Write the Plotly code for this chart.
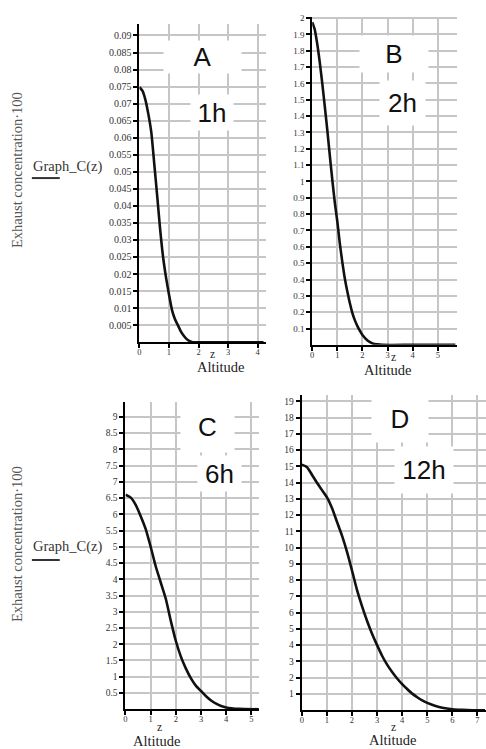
import plotly.graph_objects as go

W, H = 486, 749

# ---------------- data ----------------
# Panel A : 1 h
A_z = [0, 0.1, 0.2, 0.3, 0.4, 0.5, 0.6, 0.7, 0.8, 0.9, 1.0, 1.1, 1.2, 1.3,
       1.4, 1.5, 1.6, 1.7, 1.8, 2.0, 3.0, 4.2]
A_c = [0.0748, 0.0738, 0.0712, 0.0670, 0.0617, 0.0525, 0.0430, 0.0332,
       0.0250, 0.0190, 0.0140, 0.0095, 0.0068, 0.0050, 0.0032, 0.0019,
       0.0009, 0.0003, 0.0, 0.0, 0.0, 0.0]

# Panel B : 2 h
B_z = [0, 0.1, 0.2, 0.3, 0.4, 0.5, 0.6, 0.7, 0.8, 0.9, 1.0, 1.1, 1.2, 1.3,
       1.4, 1.5, 1.6, 1.7, 1.8, 1.9, 2.0, 2.2, 2.4, 2.6, 2.8, 4.0, 5.7]
B_c = [1.975, 1.93, 1.842, 1.73, 1.60, 1.46, 1.315, 1.16, 1.01, 0.87, 0.755,
       0.62, 0.505, 0.405, 0.325, 0.255, 0.195, 0.15, 0.115, 0.085, 0.06,
       0.027, 0.009, 0.003, 0.0, 0.0, 0.0]

# Panel C : 6 h
C_z = [0, 0.2, 0.4, 0.6, 0.8, 1.0, 1.2, 1.4, 1.6, 1.8, 2.0, 2.2, 2.4, 2.6,
       2.8, 3.0, 3.2, 3.4, 3.6, 3.8, 4.0, 4.2, 4.5, 5.3]
C_c = [6.6, 6.52, 6.3, 5.95, 5.55, 5.0, 4.4, 3.9, 3.4, 2.72, 2.1, 1.62, 1.25,
       0.95, 0.72, 0.56, 0.40, 0.27, 0.17, 0.10, 0.055, 0.03, 0.01, 0.0]

# Panel D : 12 h
D_z = [0, 0.2, 0.4, 0.6, 0.8, 1.0, 1.2, 1.4, 1.6, 1.8, 2.0, 2.2, 2.4, 2.6,
       2.8, 3.0, 3.2, 3.4, 3.6, 3.8, 4.0, 4.2, 4.4, 4.6, 4.8, 5.0, 5.3, 5.6,
       6.0, 6.4, 6.8, 7.3]
D_c = [15.1, 14.95, 14.5, 14.0, 13.55, 13.1, 12.45, 11.6, 10.75, 9.75, 8.6,
       7.4, 6.4, 5.5, 4.7, 4.0, 3.35, 2.8, 2.35, 1.95, 1.6, 1.3, 1.02, 0.8,
       0.6, 0.45, 0.28, 0.15, 0.06, 0.02, 0.0, 0.0]

# tick values / labels
A_xticks = [0, 1, 2, 3, 4]
A_yticks = [0.005, 0.01, 0.015, 0.02, 0.025, 0.03, 0.035, 0.04, 0.045, 0.05,
            0.055, 0.06, 0.065, 0.07, 0.075, 0.08, 0.085, 0.09]
A_ylabels = ["0.005", "0.01", "0.015", "0.02", "0.025", "0.03", "0.035",
             "0.04", "0.045", "0.05", "0.055", "0.06", "0.065", "0.07",
             "0.075", "0.08", "0.085", "0.09"]
B_xticks = [0, 1, 2, 3, 4, 5]
B_yticks = [0.1, 0.2, 0.3, 0.4, 0.5, 0.6, 0.7, 0.8, 0.9, 1.0, 1.1, 1.2, 1.3,
            1.4, 1.5, 1.6, 1.7, 1.8, 1.9, 2.0]
B_ylabels = ["0.1", "0.2", "0.3", "0.4", "0.5", "0.6", "0.7", "0.8", "0.9",
             "1", "1.1", "1.2", "1.3", "1.4", "1.5", "1.6", "1.7", "1.8",
             "1.9", "2"]
C_xticks = [0, 1, 2, 3, 4, 5]
C_yticks = [0.5, 1, 1.5, 2, 2.5, 3, 3.5, 4, 4.5, 5, 5.5, 6, 6.5, 7, 7.5, 8,
            8.5, 9, 9.5]
C_ylabels = ["0.5", "1", "1.5", "2", "2.5", "3", "3.5", "4", "4.5", "5",
             "5.5", "6", "6.5", "7", "7.5", "8", "8.5", "9", "9.5"]
D_xticks = [0, 1, 2, 3, 4, 5, 6, 7]
D_yticks = [1, 2, 3, 4, 5, 6, 7, 8, 9, 10, 11, 12, 13, 14, 15, 16, 17, 18, 19]
D_ylabels = [str(v) for v in D_yticks]

panel_letters = ["A", "B", "C", "D"]
panel_times = ["1h", "2h", "6h", "12h"]
y_title = "Exhaust concentration·100"
legend_name = "Graph_C(z)"
x_title = "z"
x_subtitle = "Altitude"

# ---------------- layout helpers ----------------
def px(x):
    return x / W


def py(y):
    return 1 - y / H


SERIF = "Liberation Serif, Times New Roman, serif"
SANS = "Liberation Sans, Arial, sans-serif"
GRID = "#c6c6c6"

# plot areas in pixels: (left, right, top, bottom), ranges
panels = [
    dict(z=A_z, c=A_c, box=(138, 265, 20, 340), xr=[0, 4.28], yr=[0, 0.0934],
         xt=A_xticks, yt=A_yticks, yl=A_ylabels, fs=10),
    dict(z=B_z, c=B_c, box=(311.5, 457, 13, 342.7), xr=[0, 5.77], yr=[0, 2.007],
         xt=B_xticks, yt=B_yticks, yl=B_ylabels, fs=9),
    dict(z=C_z, c=C_c, box=(124, 258, 400, 709), xr=[0, 5.3], yr=[0, 9.46],
         xt=C_xticks, yt=C_yticks, yl=C_ylabels, fs=9.5),
    dict(z=D_z, c=D_c, box=(301, 486, 393, 710), xr=[0, 7.34], yr=[0, 19.39],
         xt=D_xticks, yt=D_yticks, yl=D_ylabels, fs=9.5),
]

fig = go.Figure()
layout = dict(
    width=W, height=H, autosize=False,
    margin=dict(l=0, r=0, t=0, b=0),
    paper_bgcolor="white", plot_bgcolor="white",
    showlegend=False,
)

for i, p in enumerate(panels):
    n = "" if i == 0 else str(i + 1)
    l, r, t, b = p["box"]
    fig.add_trace(go.Scatter(
        x=p["z"], y=p["c"], mode="lines", name=legend_name,
        line=dict(color="#111111", width=2.6, shape="spline", smoothing=0.6),
        xaxis="x" + n, yaxis="y" + n, hoverinfo="skip"))
    common = dict(showline=True, linecolor="black", linewidth=2,
                  ticks="outside", ticklen=4, tickwidth=1.5, tickcolor="black",
                  showgrid=True, gridcolor=GRID, gridwidth=1.5,
                  zeroline=False, fixedrange=True)
    layout["xaxis" + n] = dict(common, domain=[px(l), px(r)], range=p["xr"],
                               anchor="y" + n, tickmode="array",
                               tickvals=p["xt"], ticktext=[str(v) for v in p["xt"]],
                               ticklabelstandoff=-3,
                               tickfont=dict(family=SERIF, size=8.5, color="#333333"))
    layout["yaxis" + n] = dict(common, domain=[py(b), py(t)], range=p["yr"],
                               anchor="x" + n, tickmode="array",
                               tickvals=p["yt"], ticktext=p["yl"],
                               tickfont=dict(family=SERIF, size=p["fs"], color="#333333"))

annotations = []


def text(s, cx, cy, size, family, color="black", **kw):
    d = dict(text=s, x=px(cx), y=py(cy), xref="paper", yref="paper",
             showarrow=False, xanchor="center", yanchor="middle",
             font=dict(family=family, size=size, color=color))
    d.update(kw)
    return d


# white boxes with panel letters and times  (center x, center y, w, h)
letter_boxes = [(201, 53, 77, 32), (394, 50, 68, 36), (206, 425, 53, 50), (400, 417, 56, 47)]
time_boxes = [(211, 109, 42, 35), (402, 100, 45, 44), (218, 472, 43, 35), (424, 468, 58, 46)]
for k in range(4):
    cx, cy, w, h = letter_boxes[k]
    annotations.append(text(panel_letters[k], cx, cy, 26, SANS, "#111111",
                            width=w, height=h, bgcolor="white", borderpad=0))
    cx, cy, w, h = time_boxes[k]
    annotations.append(text(panel_times[k], cx, cy, 26, SANS, "#111111",
                            width=w, height=h, bgcolor="white", borderpad=0))

# x titles
xt_pos = [(211, 352, 220, 365), (393, 355, 388, 368), (158, 727, 156, 741), (393, 727, 393, 740)]
for (zx, zy, ax, ay) in xt_pos:
    annotations.append(text(x_title, zx, zy, 11.5, SERIF, "#222222"))
    annotations.append(text(x_subtitle, ax, ay, 14.5, SERIF, "#222222"))

# y titles and legend labels
for (cy, gy) in [(167, 163), (543, 545)]:
    annotations.append(text(y_title, 15, cy, 14.5, SERIF, "#555555", textangle=-90))
    annotations.append(text(legend_name, 66, gy, 14.5, SERIF, "#333333"))

shapes = []
for ly in [175, 559]:
    shapes.append(dict(type="line", xref="paper", yref="paper",
                       x0=px(30), x1=px(58), y0=py(ly), y1=py(ly),
                       line=dict(color="#333333", width=2)))

layout["annotations"] = annotations
layout["shapes"] = shapes
fig.update_layout(**layout)
fig.write_html("out.html", config={"displayModeBar": False},
               post_script="document.body.style.margin='0';document.body.style.padding='0';")
